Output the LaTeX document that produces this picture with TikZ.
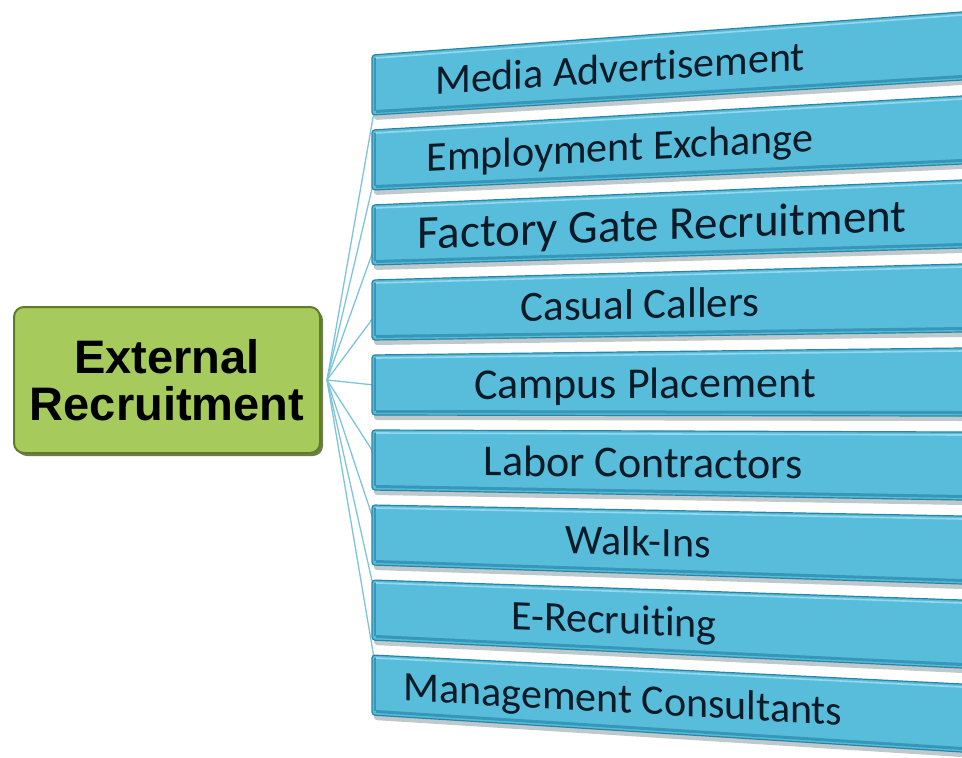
\documentclass[tikz,border=0pt]{standalone}
\usepackage{fontspec}
\setmainfont{Carlito}[Ligatures={NoCommon}]
\newfontfamily\headfont{Liberation Sans}
\usetikzlibrary{calc,shadows}

\definecolor{boxfill}{HTML}{58BCDB}
\definecolor{boxedge}{HTML}{2A84A3}
\definecolor{boxlight}{HTML}{92D8EE}
\definecolor{boxdark}{HTML}{3797B8}
\definecolor{boxshade}{HTML}{8A9AA0}
\definecolor{hubfill}{HTML}{A6CA5C}
\definecolor{hubedge}{HTML}{5E7D26}
\definecolor{hubshade}{HTML}{3C5216}
\definecolor{linkcol}{HTML}{7DC4DB}
\definecolor{labelcol}{HTML}{0A1A26}

\begin{document}
\begin{tikzpicture}[x=1pt,y=-1pt,
  hubbox/.style={rounded corners=10pt, fill=hubfill, draw=hubedge, line width=2pt,
    minimum width=306pt, minimum height=146pt, inner sep=0pt, align=center,
    text=black, font=\headfont\bfseries\fontsize{47}{47}\selectfont,
    drop shadow={shadow xshift=3pt, shadow yshift=-3pt, fill=hubshade, opacity=.75}},
  link/.style={draw=linkcol, line width=1.3pt},
  boxbody/.style={fill=boxfill, draw=boxedge, line width=1.2pt, rounded corners=3pt},
  boxgloss/.style={draw=boxlight, line width=1.6pt},
  boxrim/.style={draw=boxdark, line width=3pt},
  boxsh/.style={fill=boxshade, opacity=.55, rounded corners=3pt},
  lbl/.style={text=labelcol, inner sep=0pt, anchor=base}]

\useasboundingbox (0,0) rectangle (962,758);
\clip (0,0) rectangle (962,758);

% central green box
\node[hubbox] (ext) at (167,380) {External\\Recruitment};
\coordinate (hubpt) at (327,380);

% slanted blue bars, fanning out from the hub
\foreach \i/\txt/\cx/\fs in {
  0/Media Advertisement/620/42,
  1/Employment Exchange/620/42,
  2/Factory Gate Recruitment/662/47,
  3/Casual Callers/640/43,
  4/Campus Placement/645/44,
  5/Labor Contractors/643/44,
  6/Walk-Ins/638/42,
  7/E-Recruiting/614/42,
  8/Management Consultants/623/42} {
  \pgfmathsetmacro\lt{55+75*\i}
  \pgfmathsetmacro\lb{115+75*\i}
  \pgfmathsetmacro\rt{12+84*\i}
  \pgfmathsetmacro\rb{80+84*\i}
  \pgfmathsetmacro\et{\lt+1.0475*(\rt-\lt)}
  \pgfmathsetmacro\eb{\lb+1.0475*(\rb-\lb)}
  \pgfmathsetmacro\cl{85+75*\i}
  \pgfmathsetmacro\cr{46+84*\i}
  \pgfmathsetmacro\cy{\cl+(\cx-372)/590*(\cr-\cl)}
  \pgfmathsetmacro\sl{-(\cr-\cl)/590}
  \coordinate (b\i) at (374,{385+0.91*(\cl-385)});
  \draw[link] (hubpt) -- (b\i);
  \fill[boxsh] (374,{\lt+4}) -- (990,{\et+4}) -- (990,{\eb+5}) -- (374,{\lb+5}) -- cycle;
  \draw[boxbody] (372,\lt) -- (990,\et) -- (990,\eb) -- (372,\lb) -- cycle;
  \draw[boxgloss] (376,{\lt+3}) -- (990,{\et+3});
  \draw[boxrim] (376,{\lb-3.5}) -- (990,{\eb-3.5});
  \draw[boxdark, line width=2pt] (375,{\lt+3}) -- (375,{\lb-4});
  \begin{scope}[shift={(\cx,\cy)}, yslant=\sl]
    \node[lbl, transform shape, font=\fontsize{\fs}{\fs}\selectfont] (t\i) at (0,{0.33*\fs}) {\txt};
  \end{scope}
}
\end{tikzpicture}
\end{document}
